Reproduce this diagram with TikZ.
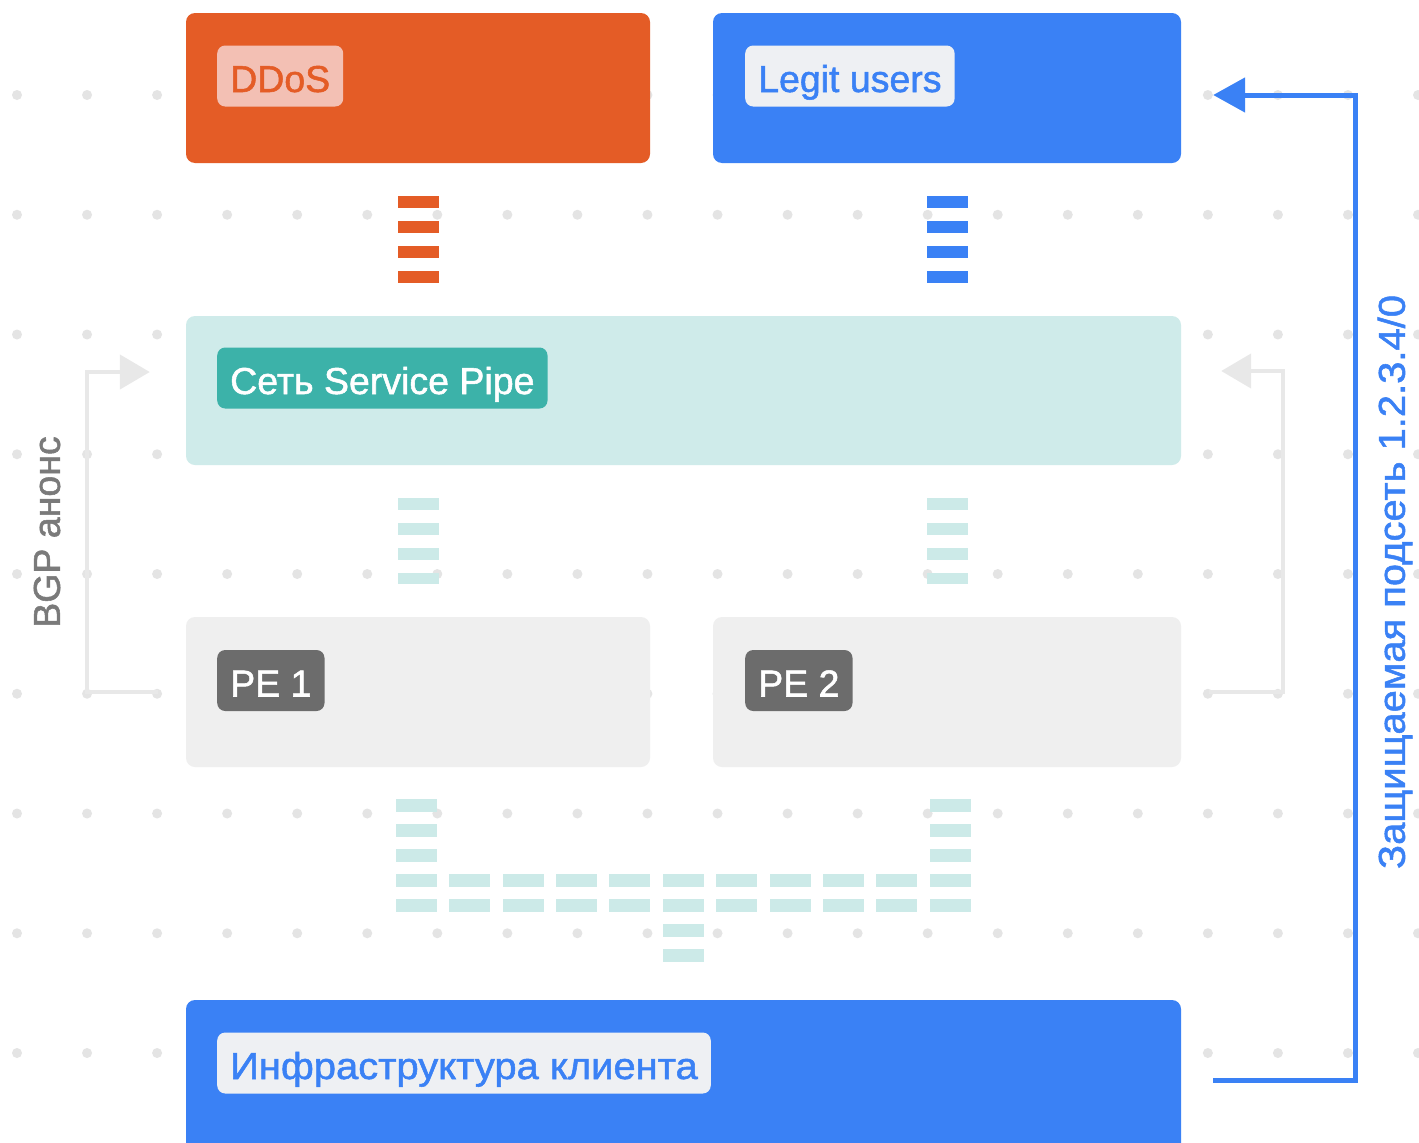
\documentclass[tikz,border=0pt]{standalone}
\usepackage{fontspec}
\setmainfont{Liberation Sans}[UprightFeatures={FakeBold=1.4}]
\newfontfamily\widefont{Liberation Sans}[UprightFeatures={FakeBold=1.4,FakeStretch=1.065}]
\usetikzlibrary{arrows.meta}
\definecolor{ddosorange}{HTML}{E45C26}
\definecolor{ddospink}{HTML}{F3C0B4}
\definecolor{userblue}{HTML}{3A81F5}
\definecolor{taggray}{HTML}{EEF0F3}
\definecolor{pipeteal}{HTML}{CFEBEA}
\definecolor{pipedark}{HTML}{3CB2A9}
\definecolor{pipebar}{HTML}{CCEAE8}
\definecolor{pegray}{HTML}{EFEFEF}
\definecolor{pedark}{HTML}{6C6C6C}
\definecolor{dotgray}{HTML}{E4E4E4}
\definecolor{bgpgray}{HTML}{E8E8E8}
\definecolor{bgptext}{HTML}{7A7A7A}
\tikzstyle{box} = [rectangle, rounded corners=9pt, inner sep=0pt, minimum height=150pt]
\tikzstyle{tag} = [rectangle, rounded corners=8pt, anchor=west, inner xsep=13pt, minimum height=61pt, text height=36pt, text depth=4pt, font={\fontsize{37.5}{45}\selectfont}]
\tikzstyle{bar} = [line width=41pt, dash pattern=on 12pt off 13pt, shorten <=33pt, shorten >=33pt]
\tikzstyle{bgp} = [draw=bgpgray, line width=4.5pt, -{Triangle[length=30pt,width=34pt]}]
\tikzstyle{subnet} = [draw=userblue, line width=5pt, -{Triangle[length=32pt,width=34pt]}]
\tikzstyle{side} = [rotate=90, font={\fontsize{37.5}{45}\selectfont}]

\begin{document}
\begin{tikzpicture}[x=1pt,y=-1pt]
    \useasboundingbox (0,0) rectangle (1419,1143);
    \fill[white] (0,0) rectangle (1419,1143);
    \foreach \i in {0,...,20}
      \foreach \j in {0,...,8}
        \fill[dotgray] (17+70.05*\i,95+119.75*\j) circle (5pt);
    \node[box,fill=ddosorange,minimum width=464pt](ddos) at (418,88){};
    \node[box,fill=userblue,minimum width=468pt](legit) at (947,88){};
    \node[box,fill=pipeteal,minimum width=995pt,minimum height=149pt](pipe) at (683.5,390.5){};
    \node[box,fill=pegray,minimum width=464pt](pe1) at (418,692){};
    \node[box,fill=pegray,minimum width=468pt](pe2) at (947,692){};
    \node[box,fill=userblue,minimum width=995pt,minimum height=160pt](client) at (683.5,1080){};
    \node[tag,fill=ddospink,text=ddosorange](ddostag) at (217,76){DDoS};
    \node[tag,fill=taggray,text=userblue](legittag) at (745,76){Legit users};
    \node[tag,fill=pipedark,text=white](pipetag) at (217,378){Сеть Service Pipe};
    \node[tag,fill=pedark,text=white](pe1tag) at (217,680.5){PE 1};
    \node[tag,fill=pedark,text=white](pe2tag) at (745,680.5){PE 2};
    \node[tag,fill=taggray,text=userblue](clienttag) at (217,1063){\widefont Инфраструктура клиента};
    \draw[bar,draw=ddosorange] (ddos.south) -- (ddos.south |- pipe.north);
    \draw[bar,draw=userblue] (legit.south) -- (legit.south |- pipe.north);
    \draw[bar,draw=pipebar] (pe1.north |- pipe.south) -- (pe1.north);
    \draw[bar,draw=pipebar] (pe2.north |- pipe.south) -- (pe2.north);
    \foreach \k in {0,...,10} {
      \fill[pipebar] (396+53.36*\k,874) rectangle +(41,12.5);
      \fill[pipebar] (396+53.36*\k,899) rectangle +(41,12.5);
    }
    \foreach \y in {799,824,849} {
      \fill[pipebar] (396,\y) rectangle +(41,12.5);
      \fill[pipebar] (929.6,\y) rectangle +(41,12.5);
    }
    \foreach \y in {924,949}
      \fill[pipebar] (662.8,\y) rectangle +(41,12.5);
    \coordinate (subnettop) at (1355,95);
    \coordinate (bgpleft) at (87,372);
    \coordinate (bgpright) at (1283,371);
    \draw[subnet] ([xshift=32pt]client.east) -| (subnettop) -- ([xshift=32pt]legit.east |- subnettop);
    \draw[bgp] ([xshift=-28pt]pe1.west) -| (bgpleft) -- ([xshift=-36pt]pipe.west |- bgpleft);
    \draw[bgp] ([xshift=28pt]pe2.east) -| (bgpright) -- ([xshift=40pt]pipe.east |- bgpright);
    \node[side,text=userblue](subnetlbl) at (1395,582){\widefont Защищаемая подсеть 1.2.3.4/0};
    \node[side,text=bgptext](bgplbl) at (47,532){BGP анонс};
\end{tikzpicture}
\end{document}
